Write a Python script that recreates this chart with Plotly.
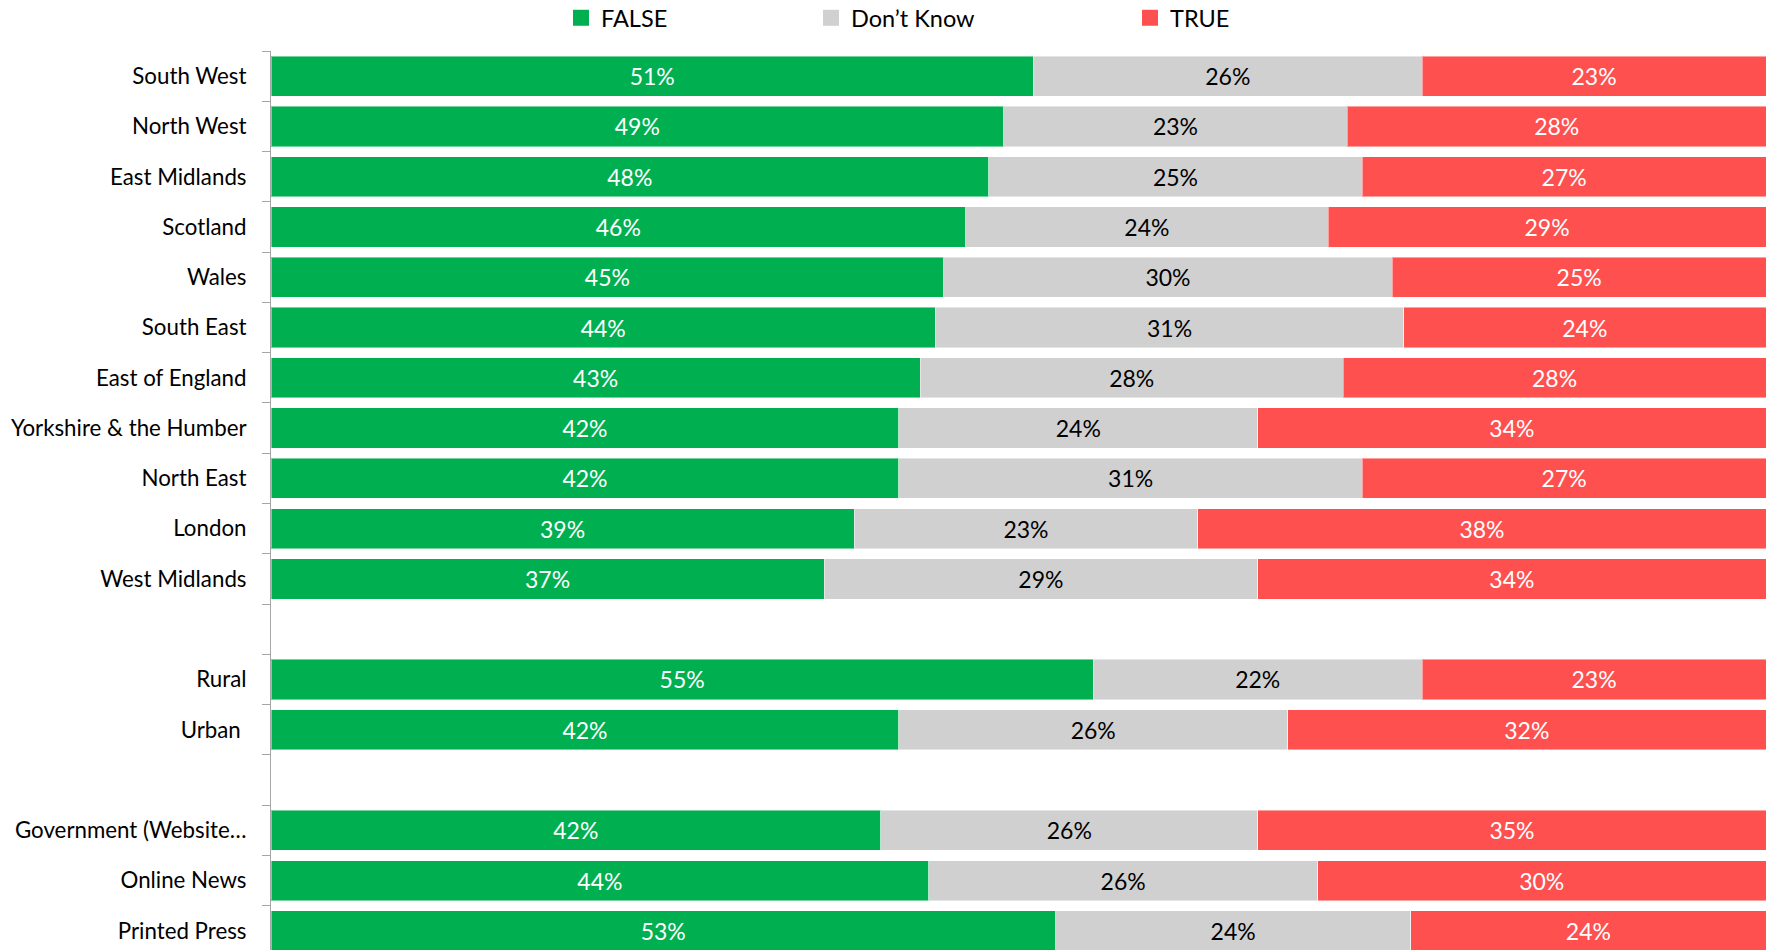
import plotly.graph_objects as go

# Rows top to bottom; blank entries separate the three groups
categories = [
    "South West", "North West", "East Midlands", "Scotland", "Wales",
    "South East", "East of England", "Yorkshire & the Humber", "North East",
    "London", "West Midlands", " ", "Rural", "Urban\u00a0", "  ",
    "Government (Website\u2026", "Online News", "Printed Press",
]
false_pct = [51, 49, 48, 46, 45, 44, 43, 42, 42, 39, 37, None, 55, 42, None, 42, 44, 53]
dont_know_pct = [26, 23, 25, 24, 30, 31, 28, 24, 31, 23, 29, None, 22, 26, None, 26, 26, 24]
true_pct = [23, 28, 27, 29, 25, 24, 28, 34, 27, 38, 34, None, 23, 32, None, 35, 30, 24]

series_names = ["FALSE", "Don\u2019t Know", "TRUE"]
series_values = [false_pct, dont_know_pct, true_pct]
colors = ["#00B050", "#D0D0D0", "#FF5050"]
text_colors = ["#FFFFFF", "#000000", "#FFFFFF"]

FONT = "Lato"
W, H = 1768, 950

fig = go.Figure()
for name, vals, col, tcol in zip(series_names, series_values, colors, text_colors):
    fig.add_trace(go.Bar(
        y=categories, x=vals, orientation="h", name=name,
        marker=dict(color=col, line=dict(color="rgba(255,255,255,0.45)", width=1)),
        text=[f"{v}%" if v is not None else "" for v in vals],
        texttemplate="%{text}", textposition="inside", insidetextanchor="middle",
        textangle=0, constraintext="none",
        textfont=dict(family=FONT, size=23, color=tcol),
        showlegend=False, hoverinfo="skip",
    ))

# Legend entries, each in its own legend box along the top
legend_x = [576, 826, 1145]
for i, (name, col) in enumerate(zip(series_names, colors)):
    fig.add_trace(go.Scatter(
        x=[None], y=[None], mode="markers", name=name,
        marker=dict(symbol="square", size=16, color=col),
        legend="legend" if i == 0 else f"legend{i + 1}",
    ))

legend_common = dict(
    orientation="h", xref="container", yref="container",
    xanchor="left", yanchor="middle", y=1 - 18 / H,
    bgcolor="rgba(0,0,0,0)", borderwidth=0,
    font=dict(family=FONT, size=23.5, color="#000000"),
)
legends = {}
for i, lx in enumerate(legend_x):
    key = "legend" if i == 0 else f"legend{i + 1}"
    legends[key] = dict(legend_common, x=(lx - 15) / W)

fig.update_layout(
    width=W, height=H,
    margin=dict(l=271, r=2, t=51, b=0),
    barmode="stack", barnorm="percent", bargap=0.2,
    plot_bgcolor="white", paper_bgcolor="white",
    font=dict(family=FONT, size=22.3, color="#000000"),
    xaxis=dict(visible=False, range=[0, 100], fixedrange=True),
    yaxis=dict(
        type="category", categoryorder="array", categoryarray=categories,
        range=[17.38, -0.5], tickson="boundaries",
        ticks="outside", ticklen=8, tickcolor="#A6A6A6", tickwidth=1,
        showline=True, linecolor="#A6A6A6", linewidth=1,
        showgrid=False, zeroline=False, ticklabelstandoff=19,
        tickfont=dict(family=FONT, size=22.3, color="#000000"),
        fixedrange=True,
    ),
    **legends,
)

fig.write_html("out.html")
